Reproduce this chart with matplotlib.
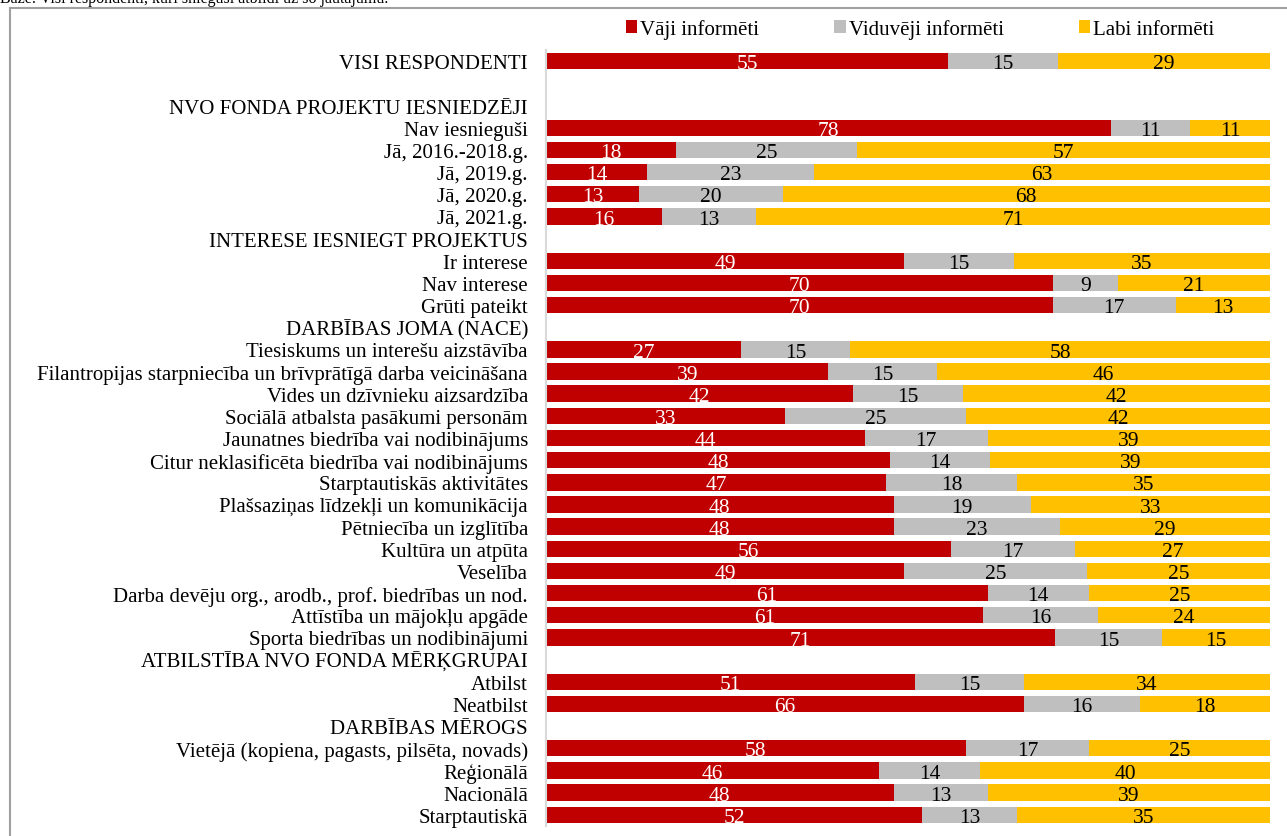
import matplotlib.pyplot as plt
import numpy as np
from matplotlib.lines import Line2D

plt.rcParams['font.family'] = ['Liberation Serif', 'DejaVu Serif']

categories = [
    "VISI RESPONDENTI", "",
    "NVO FONDA PROJEKTU IESNIEDZĒJI",
    "Nav iesnieguši", "Jā, 2016.-2018.g.", "Jā, 2019.g.", "Jā, 2020.g.", "Jā, 2021.g.",
    "INTERESE IESNIEGT PROJEKTUS",
    "Ir interese", "Nav interese", "Grūti pateikt",
    "DARBĪBAS JOMA (NACE)",
    "Tiesiskums un interešu aizstāvība",
    "Filantropijas starpniecība un brīvprātīgā darba veicināšana",
    "Vides un dzīvnieku aizsardzība",
    "Sociālā atbalsta pasākumi personām",
    "Jaunatnes biedrība vai nodibinājums",
    "Citur neklasificēta biedrība vai nodibinājums",
    "Starptautiskās aktivitātes",
    "Plašsaziņas līdzekļi un komunikācija",
    "Pētniecība un izglītība",
    "Kultūra un atpūta",
    "Veselība",
    "Darba devēju org., arodb., prof. biedrības un nod.",
    "Attīstība un mājokļu apgāde",
    "Sporta biedrības un nodibinājumi",
    "ATBILSTĪBA NVO FONDA MĒRĶGRUPAI",
    "Atbilst", "Neatbilst",
    "DARBĪBAS MĒROGS",
    "Vietējā (kopiena, pagasts, pilsēta, novads)",
    "Reģionālā", "Nacionālā", "Starptautiskā",
]

# None = header / blank row
vaji = [55, None, None, 78, 18, 14, 13, 16, None, 49, 70, 70, None,
        27, 39, 42, 33, 44, 48, 47, 48, 48, 56, 49, 61, 61, 71, None,
        51, 66, None, 58, 46, 48, 52]
vidu = [15, None, None, 11, 25, 23, 20, 13, None, 15, 9, 17, None,
        15, 15, 15, 25, 17, 14, 18, 19, 23, 17, 25, 14, 16, 15, None,
        15, 16, None, 17, 14, 13, 13]
labi = [29, None, None, 11, 57, 63, 68, 71, None, 35, 21, 13, None,
        58, 46, 42, 42, 39, 39, 35, 33, 29, 27, 25, 25, 24, 15, None,
        34, 18, None, 25, 40, 39, 35]

series = ["Vāji informēti", "Viduvēji informēti", "Labi informēti"]
colors = ["#C00000", "#BFBFBF", "#FFC000"]
text_colors = ["white", "black", "black"]

fig = plt.figure(figsize=(12.87, 8.37), dpi=100)
ax = fig.add_axes([546 / 1287, 1 - 826.8 / 837, (1270 - 546) / 1287, (826.8 - 51.2) / 837])

n = len(categories)
y = np.arange(n)
data = np.array([[np.nan if v is None else v for v in s] for s in (vaji, vidu, labi)], dtype=float)
totals = np.nansum(data, axis=0)
totals[totals == 0] = 1
share = data / totals * 100

left = np.zeros(n)
for k in range(3):
    vals = np.nan_to_num(share[k])
    ax.barh(y, vals, left=left, height=0.74, color=colors[k], label=series[k])
    for i in range(n):
        if not np.isnan(data[k, i]):
            ax.text(left[i] + vals[i] / 2, y[i] + 0.12, f"{int(data[k, i])}",
                    ha='center', va='center', fontsize=15.5, color=text_colors[k])
    left += vals

ax.set_xlim(0, 100)
ax.set_ylim(n - 0.5, -0.5)
ax.set_yticks(y)
ax.set_yticklabels(categories, fontsize=15)
ax.tick_params(axis='y', length=0, pad=13)
ax.set_xticks([])
for s in ['top', 'right', 'bottom']:
    ax.spines[s].set_visible(False)
ax.spines['left'].set_color('#D9D9D9')
ax.spines['left'].set_linewidth(1.5)

fig.legend(loc='center', bbox_to_anchor=(920 / 1287, 1 - 30 / 837), ncol=3,
           frameon=False, fontsize=15, handlelength=0.55, handleheight=0.55,
           handletextpad=0.15, columnspacing=3.6)

# outer frame (cut at right and bottom)
fig.add_artist(Line2D([10 / 1287, 1], [1 - 9 / 837, 1 - 9 / 837], transform=fig.transFigure,
                      color='#A0A0A0', lw=1.5))
fig.add_artist(Line2D([10 / 1287, 10 / 1287], [0, 1 - 9 / 837], transform=fig.transFigure,
                      color='#A0A0A0', lw=1.5))

# caption above, mostly cut off as in the source
fig.text(0.0, 1 - 3 / 837, "Bāze: Visi respondenti, kuri snieguši atbildi uz šo jautājumu.",
         fontsize=11.5, va='baseline', ha='left')

fig.savefig("out.png", dpi=100)
